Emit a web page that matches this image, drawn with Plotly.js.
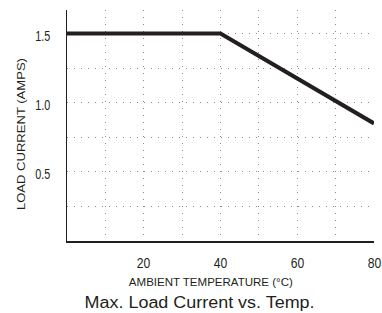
<!DOCTYPE html>
<html>
<head>
<meta charset="utf-8">
<script src="https://cdn.plot.ly/plotly-3.0.1.min.js"></script>
<style>html,body{margin:0;padding:0;background:#fff;}#chart{width:382px;height:313px;}</style>
</head>
<body>
<div id="chart"></div>
<script>
const temperature = [0, 40, 80];
const loadCurrent = [1.5, 1.5, 0.85];
const xTickVals = [20, 40, 60, 80];
const xTickText = ['20', '40', '60', '80'];
const yTickVals = [0.5, 1.0, 1.5];
const yTickText = ['0.5', '1.0', '1.5'];
const chartTitle = 'Max. Load Current vs. Temp.';
const xTitle = 'AMBIENT TEMPERATURE (°C)';
const yTitle = 'LOAD CURRENT (AMPS)';

const sans = '"Liberation Sans", Arial, sans-serif';
const ink = '#231f20';
const gridCol = '#8c8c8c';
const gridDash = '1px,6px';

const trace = {
  x: temperature, y: loadCurrent, type: 'scatter', mode: 'lines',
  line: {color: ink, width: 4}, hoverinfo: 'skip', showlegend: false, cliponaxis: false
};

const titleAnnotations = [
  {text: xTitle, xref: 'paper', yref: 'paper', x: 0.469, y: 0, yshift: -41, xanchor: 'center', yanchor: 'middle',
   showarrow: false, font: {family: sans, size: 11.5, color: ink}},
  {text: chartTitle, xref: 'paper', yref: 'paper', x: 0.433, y: 0, yshift: -61, xanchor: 'center', yanchor: 'middle',
   showarrow: false, font: {family: sans, size: 16, color: ink}},
  {text: yTitle, xref: 'paper', yref: 'paper', x: 0, xshift: -46, y: 0.463, xanchor: 'center', yanchor: 'middle',
   textangle: -90, showarrow: false, font: {family: sans, size: 11.5, color: ink}}
];
const xTickAnnotations = xTickVals.map((v, i) => ({
  text: xTickText[i], xref: 'x', yref: 'paper', x: v, y: 0, yshift: -21, xanchor: 'center', yanchor: 'middle',
  showarrow: false, font: {family: sans, size: 15.3, color: ink}
}));
const yTickAnnotations = yTickVals.map((v, i) => ({
  text: yTickText[i], xref: 'paper', yref: 'y', x: 0, xshift: -12, y: v, yshift: -2, xanchor: 'right', yanchor: 'middle',
  showarrow: false, font: {family: sans, size: 15.3, color: ink}
}));

const layout = {
  width: 382, height: 313,
  margin: {l: 67, r: 8, t: 10, b: 72},
  paper_bgcolor: '#fff', plot_bgcolor: '#fff',
  xaxis: {
    range: [0, 80.0001], tickmode: 'array', tickvals: xTickVals, ticktext: xTickText, showticklabels: false,
    showgrid: true, gridcolor: gridCol, griddash: gridDash, gridwidth: 1,
    minor: {dtick: 10, tick0: 0, showgrid: true, gridcolor: gridCol, griddash: gridDash, gridwidth: 1},
    showline: true, linecolor: ink, linewidth: 1.5, zeroline: false, ticks: '', automargin: false
  },
  yaxis: {
    range: [0, 1.67], tickmode: 'array', tickvals: yTickVals, ticktext: yTickText, showticklabels: false,
    showgrid: true, gridcolor: gridCol, griddash: gridDash, gridwidth: 1,
    minor: {dtick: 0.25, tick0: 0, showgrid: true, gridcolor: gridCol, griddash: gridDash, gridwidth: 1},
    showline: true, linecolor: ink, linewidth: 1.5, zeroline: false, ticks: '', automargin: false
  },
  annotations: titleAnnotations.concat(xTickAnnotations, yTickAnnotations)
};

const textWidths = [164, 230, 152]
  .concat(xTickVals.map(() => 13.5))
  .concat(yTickVals.map(() => 15));

function condense(gd) {
  gd.querySelectorAll('text.annotation-text').forEach((t, i) => {
    if (textWidths[i]) {
      t.setAttribute('textLength', textWidths[i]);
      t.setAttribute('lengthAdjust', 'spacingAndGlyphs');
    }
  });
}

const gdiv = document.getElementById('chart');
Plotly.newPlot(gdiv, [trace], layout, {displayModeBar: false, staticPlot: true}).then(gd => {
  condense(gd);
  gd.on('plotly_afterplot', () => condense(gd));
});
</script>
</body>
</html>
